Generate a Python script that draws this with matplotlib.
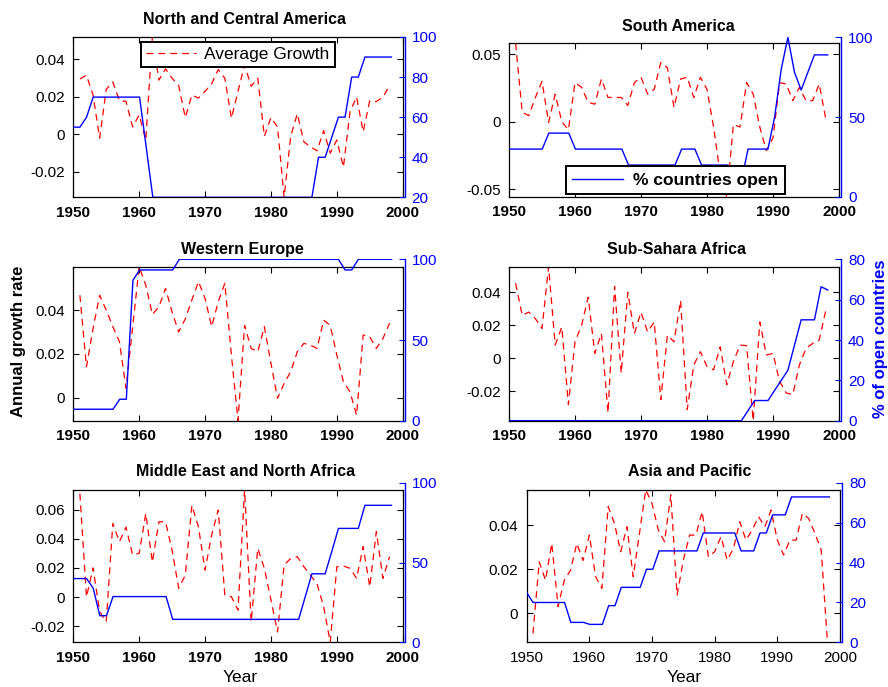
import numpy as np
import matplotlib
matplotlib.use("Agg")
import matplotlib.pyplot as plt
from matplotlib.ticker import FuncFormatter

plt.rcParams['font.family'] = ['Liberation Sans', 'DejaVu Sans']
plt.rcParams['axes.unicode_minus'] = False

W, H = 888, 687

years_open = np.arange(1950, 1999)
years_growth = np.arange(1951, 1999)

titles = ["North and Central America", "South America", "Western Europe",
          "Sub-Sahara Africa", "Middle East and North Africa", "Asia and Pacific"]

nca_open = [55, 55, 60, 70, 70, 70, 70, 70, 70, 70, 70, 45, 20,
            20, 20, 20, 20, 20, 20, 20, 20, 20, 20, 20, 20, 20, 20, 20, 20, 20, 20, 20, 20, 20, 20, 20, 20,
            40, 40, 50, 60, 60, 80, 80, 90, 90, 90, 90, 90]
nca_growth = [0.0296, 0.0316, 0.021, -0.002, 0.024, 0.028, 0.018, 0.0176, 0.004, 0.0104,
              -0.003, 0.052, 0.029, 0.035, 0.030, 0.026, 0.009, 0.021, 0.0194, 0.023,
              0.027, 0.0346, 0.030, 0.0086, 0.023, 0.037, 0.0257, 0.030, -0.001, 0.009,
              0.004, -0.0336, -0.001, 0.011, -0.004, -0.0066, -0.0088, 0.002, -0.010, -0.003,
              -0.0175, 0.012, 0.020, 0.0014, 0.018, 0.0175, 0.020, 0.026]

sa_open = [30, 30, 30, 30, 30, 30, 40, 40, 40, 40,
           30, 30, 30, 30, 30, 30, 30, 30,
           20, 20, 20, 20, 20, 20, 20, 20,
           30, 30, 30, 20, 20, 20, 20, 20, 10, 10,
           30, 30, 30, 30, 50, 80, 100, 78, 67, 78, 89, 89, 89]
sa_growth = [0.0582, 0.007, 0.0045, 0.018, 0.030, -0.0005, 0.0205, 0.000, -0.006, 0.029,
             0.0255, 0.0144, 0.013, 0.0317, 0.018, 0.018, 0.018, 0.012, 0.029, 0.033,
             0.0205, 0.024, 0.044, 0.040, 0.0106, 0.0317, 0.033, 0.018, 0.033, 0.024,
             -0.004, -0.039, -0.0559, -0.002, -0.004, 0.029, 0.0205, -0.004, -0.0215, -0.012,
             0.029, 0.028, 0.0156, 0.0255, 0.0156, 0.0156, 0.028, 0.002]

we_open = [7.1, 7.1, 7.1, 7.1, 7.1, 7.1, 7.1, 13.3, 13.3, 87, 93.4, 93.4, 93.4, 93.4, 93.4, 93.4,
           100, 100, 100, 100, 100, 100, 100, 100, 100, 100, 100, 100, 100, 100, 100, 100, 100,
           100, 100, 100, 100, 100, 100, 100, 100, 93.4, 93.4, 100, 100, 100, 100, 100, 100]
we_growth = [0.0468, 0.0141, 0.0316, 0.0468, 0.040, 0.0324, 0.0256, 0.0043, 0.032, 0.0598,
             0.0514, 0.038, 0.0415, 0.0499, 0.039, 0.030, 0.036, 0.0446, 0.053, 0.0453,
             0.0324, 0.0438, 0.0522, 0.0195, -0.0105, 0.033, 0.0225, 0.021, 0.0324, 0.0157,
             -0.0003, 0.0065, 0.0119, 0.021, 0.0248, 0.024, 0.0225, 0.0354, 0.033, 0.0195,
             0.0073, 0.0027, -0.008, 0.0286, 0.0278, 0.0225, 0.027, 0.034]

ssa_open = [0] * 36 + [5, 10, 10, 10, 15, 20, 25, 37.5, 50, 50, 50, 66.4, 64.8]
ssa_growth = [0.0455, 0.026, 0.028, 0.024, 0.018, 0.0555, 0.008, 0.019, -0.028, 0.010,
              0.020, 0.037, 0.003, 0.015, -0.033, 0.0435, -0.009, 0.040, 0.015, 0.028,
              0.016, 0.022, -0.025, 0.014, 0.010, 0.035, -0.031, -0.004, 0.004, -0.005,
              -0.007, 0.007, -0.016, -0.002, 0.008, 0.0077, -0.0378, 0.022, 0.002, 0.003,
              -0.014, -0.021, -0.022, -0.004, 0.006, 0.009, 0.011, 0.029]

mena_open = [40, 40, 40, 34, 16.7, 16.7] + [28.7] * 9 + [14.4] * 20 + \
            [28.7, 43, 43, 43, 57, 71.5, 71.5, 71.5, 71.5, 86, 86, 86, 86, 86]
mena_growth = [0.071, 0.000, 0.020, -0.010, -0.017, 0.0506, 0.038, 0.048, 0.029, 0.030,
               0.0574, 0.024, 0.0517, 0.0517, 0.032, 0.006, 0.015, 0.063, 0.048, 0.0185,
               0.0426, 0.0597, 0.0014, 0.0002, -0.009, 0.0737, -0.017, 0.0334, 0.0197, -0.002,
               -0.024, 0.022, 0.0265, 0.0277, 0.0208, 0.015, 0.009, -0.0066, -0.0311, 0.0208,
               0.0213, 0.0197, 0.0128, 0.0346, 0.007, 0.0449, 0.0128, 0.0277]

ap_open = [25, 20, 20, 20, 20, 20, 20, 10, 10, 10, 9, 9, 9, 18.4, 18.4, 27.6, 27.6, 27.6, 27.6,
           36.7, 36.7, 45.9, 45.9, 45.9, 45.9, 45.9, 45.9, 45.9, 54.9, 54.9, 54.9, 54.9, 54.9, 54.9,
           45.9, 45.9, 45.9, 54.9, 54.9, 64, 64, 64, 73, 73, 73, 73, 73, 73, 73]
ap_growth = [-0.0093, 0.0234, 0.015, 0.0318, 0.003, 0.015, 0.0196, 0.0318, 0.024, 0.0356,
             0.0166, 0.0113, 0.0486, 0.041, 0.028, 0.0394, 0.0166, 0.0364, 0.0563, 0.050,
             0.038, 0.0326, 0.054, 0.0082, 0.0242, 0.0356, 0.0356, 0.0463, 0.0257, 0.028,
             0.0349, 0.0242, 0.0295, 0.0417, 0.0333, 0.038, 0.044, 0.0394, 0.047, 0.0333,
             0.0265, 0.0333, 0.0333, 0.0455, 0.0432, 0.0364, 0.0288, -0.0133]

left_yticks = [[-0.02, 0, 0.02, 0.04], [-0.05, 0, 0.05], [0, 0.02, 0.04],
               [-0.02, 0, 0.02, 0.04], [-0.02, 0, 0.02, 0.04, 0.06], [0, 0.02, 0.04]]
right_yticks = [[20, 40, 60, 80, 100], [0, 50, 100], [0, 50, 100],
                [0, 20, 40, 60, 80], [0, 50, 100], [0, 20, 40, 60, 80]]
xticks = [1950, 1960, 1970, 1980, 1990, 2000]

opens = [nca_open, sa_open, we_open, ssa_open, mena_open, ap_open]
growths = [nca_growth, sa_growth, we_growth, ssa_growth, mena_growth, ap_growth]

# layout (pixels): box x0, x1, y0, y1 ; right-axis top y
boxes = [(73.3, 402.7, 37.0, 197.3, 37.0),
         (509.0, 839.0, 43.3, 197.0, 37.3),
         (73.3, 402.7, 266.7, 420.7, 259.3),
         (509.0, 839.0, 266.7, 420.7, 259.3),
         (73.3, 402.7, 489.7, 642.3, 483.0),
         (526.7, 840.0, 489.7, 642.3, 483.0)]
title_pos = [(244, 20), (678, 26.7), (242.5, 249), (676.5, 249), (245.8, 472), (689.5, 472)]


def rect(x0, x1, y0, y1):
    return [x0 / W, 1 - y1 / H, (x1 - x0) / W, (y1 - y0) / H]


fig = plt.figure(figsize=(W / 100, H / 100), dpi=100)
fmt = FuncFormatter(lambda v, p: ('%g' % v))

red_style = dict(color='red', lw=0.9, ls=(0, (5.5, 4.0)))
blue_style = dict(color='blue', lw=1.0)

for i in range(6):
    x0, x1, y0, y1, ry0 = boxes[i]
    g = np.array(growths[i])
    o = np.array(opens[i])
    ax = fig.add_axes(rect(x0, x1, y0, y1))
    lg, = ax.plot(years_growth, g, **red_style)
    ax.set_xlim(1950, 2000)
    ax.set_ylim(g.min(), g.max())
    ax.set_xticks(xticks)
    ax.set_yticks(left_yticks[i])
    ax.yaxis.set_major_formatter(fmt)
    ax.tick_params(direction='in', top=True, right=True, length=4, width=0.8,
                   labelsize=11, pad=6)
    for lab in ax.get_xticklabels():
        lab.set_fontweight('bold' if i != 5 else 'normal')
    for s in ax.spines.values():
        s.set_linewidth(0.9)

    ax2 = fig.add_axes(rect(x0, x1 + 2, ry0, y1))
    ax2.patch.set_visible(False)
    lo, = ax2.plot(years_open, o, **blue_style)
    ax2.set_xlim(1950, 2000)
    ax2.set_ylim(right_yticks[i][0], right_yticks[i][-1])
    ax2.set_yticks(right_yticks[i])
    ax2.set_xticks([])
    for s in ['left', 'top', 'bottom']:
        ax2.spines[s].set_visible(False)
    ax2.spines['right'].set_color('blue')
    ax2.spines['right'].set_linewidth(1.0)
    ax2.yaxis.tick_right()
    ax2.tick_params(axis='y', colors='blue', direction='in', length=4, width=0.8,
                    labelsize=11, pad=5)

    fig.text(title_pos[i][0] / W, 1 - title_pos[i][1] / H, titles[i],
             ha='center', va='center', fontsize=11.5, fontweight='bold')

    if i == 0:
        leg = ax2.legend([lg], ['Average Growth'], loc='upper left',
                         bbox_to_anchor=(140.7 / W, 1 - 41.7 / H), bbox_transform=fig.transFigure,
                         fontsize=12.5, handlelength=2.9, handletextpad=0.45, borderpad=0.3,
                         borderaxespad=0, fancybox=False, framealpha=1, edgecolor='black')
        leg.get_frame().set_linewidth(1.4)
    if i == 1:
        leg = ax2.legend([lo], ['% countries open'], loc='upper left',
                         bbox_to_anchor=(565.7 / W, 1 - 166 / H), bbox_transform=fig.transFigure,
                         handlelength=2.9, handletextpad=0.6, borderpad=0.38,
                         borderaxespad=0, fancybox=False, framealpha=1, edgecolor='black',
                         prop={'weight': 'bold', 'size': 12.5})
        leg.get_frame().set_linewidth(1.4)

fig.text(18.5 / W, 1 - 341 / H, 'Annual growth rate', rotation=90, ha='center', va='center',
         fontsize=12, fontweight='bold')
fig.text(880.5 / W, 1 - 338.5 / H, '% of open countries', rotation=90, ha='center', va='center',
         fontsize=12, fontweight='bold', color='blue')
fig.text(240 / W, 1 - 677 / H, 'Year', ha='center', va='center', fontsize=12.5)
fig.text(684 / W, 1 - 677 / H, 'Year', ha='center', va='center', fontsize=12.5)

fig.savefig('out.png', dpi=100, facecolor='white')
